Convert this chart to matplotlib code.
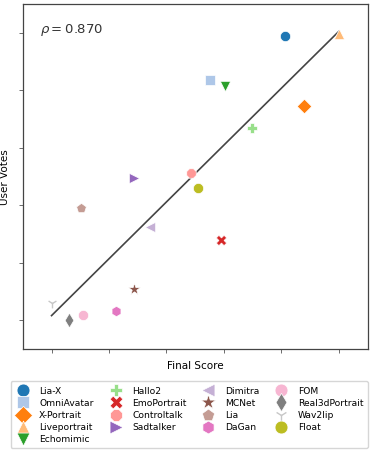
import numpy as np
import matplotlib
matplotlib.use("Agg")
import matplotlib.pyplot as plt

methods = ["Lia-X", "OmniAvatar", "X-Portrait", "Liveportrait", "Echomimic",
           "Hallo2", "EmoPortrait", "Controltalk", "Sadtalker", "Dimitra",
           "MCNet", "Lia", "DaGan", "FOM", "Real3dPortrait", "Wav2lip", "Float"]
final_score = [4.06, 2.75, 4.40, 5.00, 3.01, 3.48, 2.95, 2.43, 1.43, 1.72,
               1.43, 0.51, 1.13, 0.55, 0.31, 0.00, 2.54]
user_votes = [4.95, 4.18, 3.73, 4.98, 4.08, 3.35, 1.39, 2.57, 2.47, 1.63,
              0.54, 1.96, 0.16, 0.09, 0.00, 0.30, 2.31]
markers = ["o", "s", "D", "^", "v", "P", "X", "8", ">", "<",
           "*", "p", "h", "o", "d", "1", "o"]
rho = 0.870

colors = plt.get_cmap("tab20").colors

fig = plt.figure(figsize=(3.74, 4.56), dpi=100)
ax = fig.add_axes([0.061, 0.232, 0.922, 0.757])

for i, name in enumerate(methods):
    c = colors[i % 20]
    size = 80 if markers[i] == "*" else 55
    if markers[i] == "1":
        ax.scatter(final_score[i], user_votes[i], marker=markers[i], s=50,
                   color=c, linewidths=1.0, label=name, zorder=3)
    else:
        ax.scatter(final_score[i], user_votes[i], marker=markers[i], s=size,
                   color=c, edgecolors="white", linewidths=0.5, label=name, zorder=3)

# regression line
x = np.array(final_score)
y = np.array(user_votes)
k, b = np.polyfit(x, y, 1)
xs = np.array([x.min(), x.max()])
ax.plot(xs, k * xs + b, color="#444444", lw=1.2, zorder=2)

ax.text(0.05, 0.95, rf"$\rho = {rho:.3f}$", transform=ax.transAxes,
        fontsize=9.5, va="top", ha="left", color="#333333")

ax.set_xlim(-0.5, 5.5)
ax.set_ylim(-0.5, 5.5)
ax.set_xticks(np.arange(0, 6))
ax.set_yticks(np.arange(0, 6))
ax.set_xticklabels([])
ax.set_yticklabels([])
ax.set_xlabel("Final Score", fontsize=7.5, labelpad=1)
ax.set_ylabel("User Votes", fontsize=7.5)
ax.yaxis.set_label_coords(-0.038, 0.5)
ax.tick_params(length=3, width=0.6, color="#555555")
for sp in ax.spines.values():
    sp.set_color("#444444")
    sp.set_linewidth(0.9)

fig.legend(loc="lower center", bbox_to_anchor=(0.506, 0.0155), ncol=4,
           fontsize=6.6, frameon=True, handletextpad=1.0, columnspacing=1.6,
           labelspacing=0.35, borderpad=0.5, markerscale=1.25, handlelength=1.6,
           borderaxespad=0, edgecolor="#cccccc", fancybox=True)

fig.savefig("out.png", dpi=100)
